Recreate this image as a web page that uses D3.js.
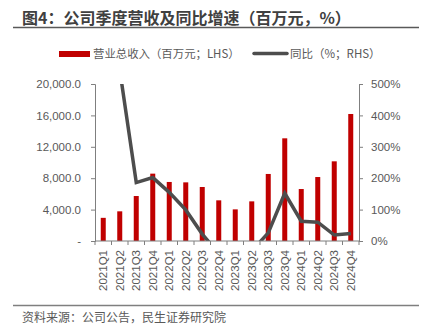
<!DOCTYPE html>
<html><head><meta charset="utf-8">
<script src="https://cdn.jsdelivr.net/npm/d3@7"></script>
<style>
body{margin:0;background:#fff;}
svg{display:block;font-family:"Noto Sans CJK SC","Noto Sans",sans-serif;}
</style></head>
<body><svg id="c" width="432" height="333"></svg>
<script>
const categories = ["2021Q1","2021Q2","2021Q3","2021Q4","2022Q1","2022Q2","2022Q3","2022Q4","2023Q1","2023Q2","2023Q3","2023Q4","2024Q1","2024Q2","2024Q3","2024Q4"];
const revenue = [2950,3780,5730,8580,7520,7470,6880,5180,4030,5050,8540,13080,6620,8150,10150,16180];
const yoy = [null,545,186,202,155,99,22,-40,-46,-32,26,152,63,60,19,24];
const leftTicks = [0,4000,8000,12000,16000,20000];
const rightTicks = [0,100,200,300,400,500];

const svg = d3.select("#c");
const m = {l:95, r:359, t:84, b:241};
const x = d3.scaleBand().domain(categories).range([m.l, m.r]).paddingInner(0).paddingOuter(0);
const yL = d3.scaleLinear().domain([0,20000]).range([m.b, m.t]);
const yR = d3.scaleLinear().domain([0,500]).range([m.b, m.t]);
const axisColor = "#7f7f7f", textColor = "#595959";

// Title
svg.append("text").attr("x",22).attr("y",24).attr("font-size",16).attr("font-weight","bold")
  .attr("fill","#404040").text("图4：公司季度营收及同比增速（百万元，%）");
svg.append("line").attr("x1",13).attr("x2",419).attr("y1",27.5).attr("y2",27.5).attr("stroke","#595959").attr("stroke-width",1.5);

// Legend
svg.append("rect").attr("x",59).attr("y",51).attr("width",31).attr("height",6).attr("fill","#C00000");
svg.append("text").attr("x",93).attr("y",58).attr("font-size",11.4).attr("fill",textColor).text("营业总收入（百万元；LHS）");
svg.append("line").attr("x1",254).attr("x2",287).attr("y1",53.5).attr("y2",53.5).attr("stroke","#4d4d4d").attr("stroke-width",3.5).attr("stroke-linecap","round");
svg.append("text").attr("x",290).attr("y",58).attr("font-size",11.5).attr("fill",textColor).text("同比（%；RHS）");

// Bars
const bw = 5;
svg.append("g").selectAll("rect").data(categories).join("rect")
  .attr("x", (d)=> x(d) + x.bandwidth()/2 - bw/2)
  .attr("y", (d,i)=> yL(revenue[i]))
  .attr("width", bw)
  .attr("height", (d,i)=> yL(0) - yL(revenue[i]))
  .attr("fill","#C00000");

// Left axis
const gL = svg.append("g").attr("transform",`translate(${m.l},0)`)
  .call(d3.axisLeft(yL).tickValues(leftTicks).tickSize(4).tickPadding(10)
    .tickFormat(d=> d===0 ? "-" : d3.format(",.1f")(d)));
// Right axis
const gR = svg.append("g").attr("transform",`translate(${m.r},0)`)
  .call(d3.axisRight(yR).tickValues(rightTicks).tickSize(4).tickPadding(8)
    .tickFormat(d=> d + "%"));
[gL,gR].forEach(g=>{
  g.select(".domain").attr("stroke",axisColor);
  g.selectAll(".tick line").attr("stroke",axisColor);
  g.selectAll(".tick text").attr("fill",textColor).attr("font-size",11.5).attr("font-family","Liberation Sans, Arial, sans-serif");
});

// Line (clipped)
svg.append("clipPath").attr("id","clip").append("rect")
  .attr("x",m.l).attr("y",m.t).attr("width",m.r-m.l).attr("height",m.b-m.t);
const line = d3.line().defined(d=>d.v!==null)
  .x(d=> x(d.c)+x.bandwidth()/2).y(d=> yR(d.v));
svg.append("path").datum(categories.map((c,i)=>({c, v:yoy[i]})))
  .attr("d", line).attr("fill","none").attr("stroke","#4d4d4d").attr("stroke-width",3.5)
  .attr("stroke-linejoin","miter").attr("clip-path","url(#clip)");

// X axis
const gX = svg.append("g").attr("transform",`translate(0,${m.b})`);
gX.append("line").attr("x1",m.l).attr("x2",m.r).attr("stroke",axisColor);
const bounds = d3.range(categories.length+1).map(i=> m.l + i*x.step());
gX.selectAll("line.tk").data(bounds).join("line").attr("class","tk")
  .attr("x1",d=>d).attr("x2",d=>d).attr("y1",0).attr("y2",4).attr("stroke",axisColor);
gX.selectAll("text").data(categories).join("text")
  .attr("transform", d=>`translate(${x(d)+x.bandwidth()/2+4},9) rotate(-90)`)
  .attr("text-anchor","end").attr("font-size",11.5).attr("fill",textColor)
  .attr("font-family","Liberation Sans, Arial, sans-serif").text(d=>d);

// Source
svg.append("line").attr("x1",13).attr("x2",419).attr("y1",305.5).attr("y2",305.5).attr("stroke","#7f7f7f").attr("stroke-width",1.5);
svg.append("text").attr("x",22).attr("y",322).attr("font-size",12).attr("fill",textColor).text("资料来源：公司公告，民生证券研究院");
</script></body></html>
